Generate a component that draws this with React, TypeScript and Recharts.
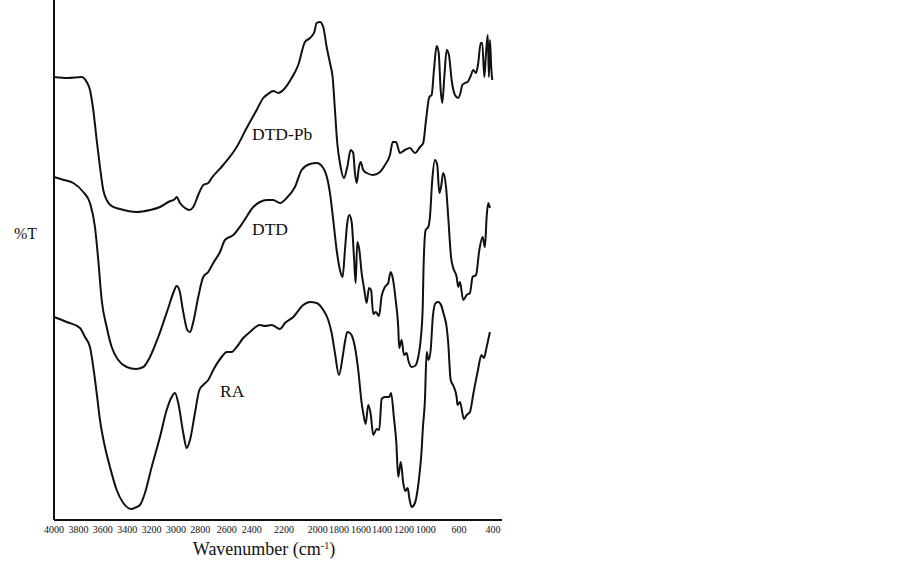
import { LineChart, Line, XAxis, YAxis } from "recharts"

// wavenumber (cm-1) and transmittance (arbitrary units)
const DTDPB_WN = [4000, 3885, 3773, 3732, 3705, 3678, 3650, 3623, 3596, 3568, 3527, 3459, 3322, 3213, 3131, 3063, 3008, 2994, 2967, 2926, 2890, 2858, 2817, 2776, 2735, 2707, 2612, 2502, 2420, 2338, 2284, 2245, 2202, 2161, 2120, 2051, 1997, 1942, 1901, 1865, 1846, 1819, 1792, 1764, 1733, 1715, 1696, 1677, 1655, 1622, 1595, 1567, 1546, 1532, 1518, 1499, 1485, 1464, 1436, 1382, 1327, 1286, 1245, 1222, 1195, 1163, 1122, 1081, 1040, 999, 972, 949, 922, 903, 884, 862, 845, 829, 816, 799, 780, 761, 739, 712, 685, 665, 652, 630, 608, 583, 562, 539, 521, 501, 488, 471, 457, 443, 433, 425, 414, 406]
const DTDPB_T = [443, 442, 443, 438, 430, 410, 380, 353, 330, 320, 314, 311, 308, 310, 313, 318, 321, 323, 317, 312, 310, 313, 325, 335, 337, 342, 355, 373, 392, 410, 422, 426, 429, 427, 430, 442, 455, 478, 482, 488, 497, 498, 493, 473, 455, 443, 410, 377, 357, 342, 353, 370, 367, 347, 337, 353, 358, 350, 347, 345, 348, 355, 365, 378, 378, 367, 370, 372, 367, 373, 377, 400, 423, 425, 450, 474, 467, 430, 417, 443, 470, 465, 440, 425, 422, 428, 435, 437, 438, 444, 450, 447, 457, 477, 477, 443, 467, 485, 443, 480, 452, 440]

const DTD_WN = [4000, 3918, 3842, 3760, 3705, 3664, 3637, 3609, 3568, 3527, 3473, 3404, 3328, 3268, 3213, 3145, 3063, 3022, 2994, 2972, 2940, 2907, 2885, 2858, 2817, 2776, 2735, 2694, 2639, 2598, 2530, 2448, 2366, 2311, 2256, 2202, 2147, 2092, 2024, 1969, 1901, 1846, 1792, 1751, 1737, 1710, 1682, 1655, 1633, 1614, 1595, 1578, 1559, 1540, 1526, 1513, 1496, 1477, 1455, 1436, 1417, 1400, 1382, 1360, 1335, 1313, 1286, 1259, 1239, 1222, 1198, 1177, 1169, 1149, 1130, 1108, 1095, 1067, 1040, 1013, 993, 976, 970, 952, 931, 917, 898, 876, 857, 840, 826, 808, 785, 767, 744, 726, 698, 685, 671, 644, 616, 589, 567, 539, 512, 485, 466, 452, 439, 425]
const DTD_T = [343, 340, 337, 328, 317, 293, 260, 220, 193, 173, 160, 153, 151, 153, 163, 183, 212, 227, 234, 230, 208, 190, 188, 198, 223, 243, 248, 257, 268, 280, 285, 298, 313, 318, 320, 320, 317, 322, 333, 350, 356, 357, 352, 337, 327, 300, 270, 250, 243, 270, 297, 305, 298, 263, 237, 278, 270, 247, 230, 217, 232, 230, 206, 208, 204, 224, 233, 237, 248, 242, 220, 193, 172, 180, 165, 167, 160, 153, 154, 163, 180, 213, 250, 290, 293, 303, 340, 360, 355, 327, 333, 347, 333, 303, 263, 252, 243, 233, 238, 220, 225, 227, 243, 245, 270, 283, 273, 303, 317, 312]

const RA_WN = [4000, 3896, 3787, 3746, 3705, 3678, 3650, 3623, 3582, 3541, 3486, 3432, 3363, 3322, 3295, 3254, 3199, 3131, 3076, 3035, 3008, 2981, 2940, 2912, 2885, 2844, 2808, 2776, 2735, 2694, 2625, 2584, 2543, 2502, 2448, 2393, 2311, 2270, 2215, 2147, 2106, 2038, 1956, 1901, 1846, 1792, 1751, 1723, 1696, 1663, 1633, 1614, 1595, 1573, 1556, 1532, 1505, 1477, 1464, 1444, 1423, 1403, 1382, 1354, 1333, 1313, 1286, 1250, 1236, 1212, 1193, 1177, 1156, 1136, 1119, 1099, 1086, 1067, 1040, 1015, 999, 985, 976, 958, 944, 928, 911, 892, 870, 849, 826, 802, 780, 767, 747, 724, 698, 691, 671, 638, 616, 589, 560, 523, 495, 474, 452, 425]
const RA_T = [203, 198, 192, 183, 173, 153, 127, 100, 73, 53, 30, 17, 11, 13, 15, 27, 53, 83, 110, 123, 127, 117, 87, 72, 80, 107, 130, 135, 140, 150, 163, 168, 168, 173, 182, 188, 195, 194, 195, 191, 197, 203, 215, 218, 217, 210, 200, 187, 167, 145, 163, 178, 188, 187, 184, 173, 150, 117, 107, 96, 115, 106, 85, 91, 90, 121, 123, 123, 127, 102, 78, 43, 58, 37, 29, 32, 22, 13, 17, 33, 50, 70, 90, 120, 168, 160, 170, 205, 217, 218, 215, 205, 193, 177, 140, 134, 123, 115, 118, 101, 105, 108, 127, 150, 165, 162, 173, 188]

// the printed tick labels and where they sit along the axis
const TICK_LABELS = ["4000", "3800", "3600", "3400", "3200", "3000", "2800", "2600", "2400", "2200", "2000", "1800", "1600", "1400", "1200", "1000", "600", "400"]
const TICK_POS = [4000, 3800, 3600, 3400, 3200, 3000, 2800, 2584, 2379, 2114, 1838, 1663, 1482, 1310, 1130, 952, 679, 400]

const toRows = (wn: number[], t: number[]) =>
  wn.slice(0, Math.min(wn.length, t.length)).map((w, i) => ({ wn: w, t: t[i] }))

const FONT = '"Liberation Serif", "Times New Roman", serif'
const INK = "#111"

export default function App() {
  const series = [
    { name: "DTD-Pb", data: toRows(DTDPB_WN, DTDPB_T) },
    { name: "DTD", data: toRows(DTD_WN, DTD_T) },
    { name: "RA", data: toRows(RA_WN, RA_T) },
  ]
  const labelOf = new Map(TICK_POS.map((p, i) => [p, TICK_LABELS[i]]))

  return (
    <div style={{ position: "absolute", left: 0, top: 0, width: 902, height: 566, background: "#fff" }}>
      <LineChart width={902} height={566} margin={{ top: 0, right: 400, bottom: 0, left: 0 }}>
        <XAxis
          dataKey="wn"
          type="number"
          domain={[326, 4000]}
          reversed
          ticks={TICK_POS}
          interval={0}
          tickFormatter={(v: number) => labelOf.get(v) ?? String(v)}
          tickLine={false}
          tickSize={0}
          tickMargin={6}
          height={46}
          axisLine={{ stroke: INK, strokeWidth: 2 }}
          tick={{ fill: INK, fontSize: 10, fontFamily: FONT }}
        />
        <YAxis
          type="number"
          domain={[0, 520]}
          width={54}
          tick={false}
          tickLine={false}
          axisLine={{ stroke: INK, strokeWidth: 2 }}
        />
        {series.map((s) => (
          <Line
            key={s.name}
            data={s.data}
            dataKey="t"
            name={s.name}
            type="monotone"
            stroke={INK}
            strokeWidth={2}
            dot={false}
            activeDot={false}
            isAnimationActive={false}
          />
        ))}
        <text x={252} y={140} fontSize={17.5} fontFamily={FONT} fill={INK}>DTD-Pb</text>
        <text x={252} y={235} fontSize={17.5} fontFamily={FONT} fill={INK}>DTD</text>
        <text x={220} y={397} fontSize={17.5} fontFamily={FONT} fill={INK}>RA</text>
        <text x={14} y={239} fontSize={16} fontFamily={FONT} fill={INK}>%T</text>
        <text x={264} y={555} fontSize={18} fontFamily={FONT} fill={INK} textAnchor="middle">
          <tspan>Wavenumber (cm</tspan>
          <tspan dy={-6} fontSize={10}>-1</tspan>
          <tspan dy={6}>)</tspan>
        </text>
      </LineChart>
    </div>
  )
}
